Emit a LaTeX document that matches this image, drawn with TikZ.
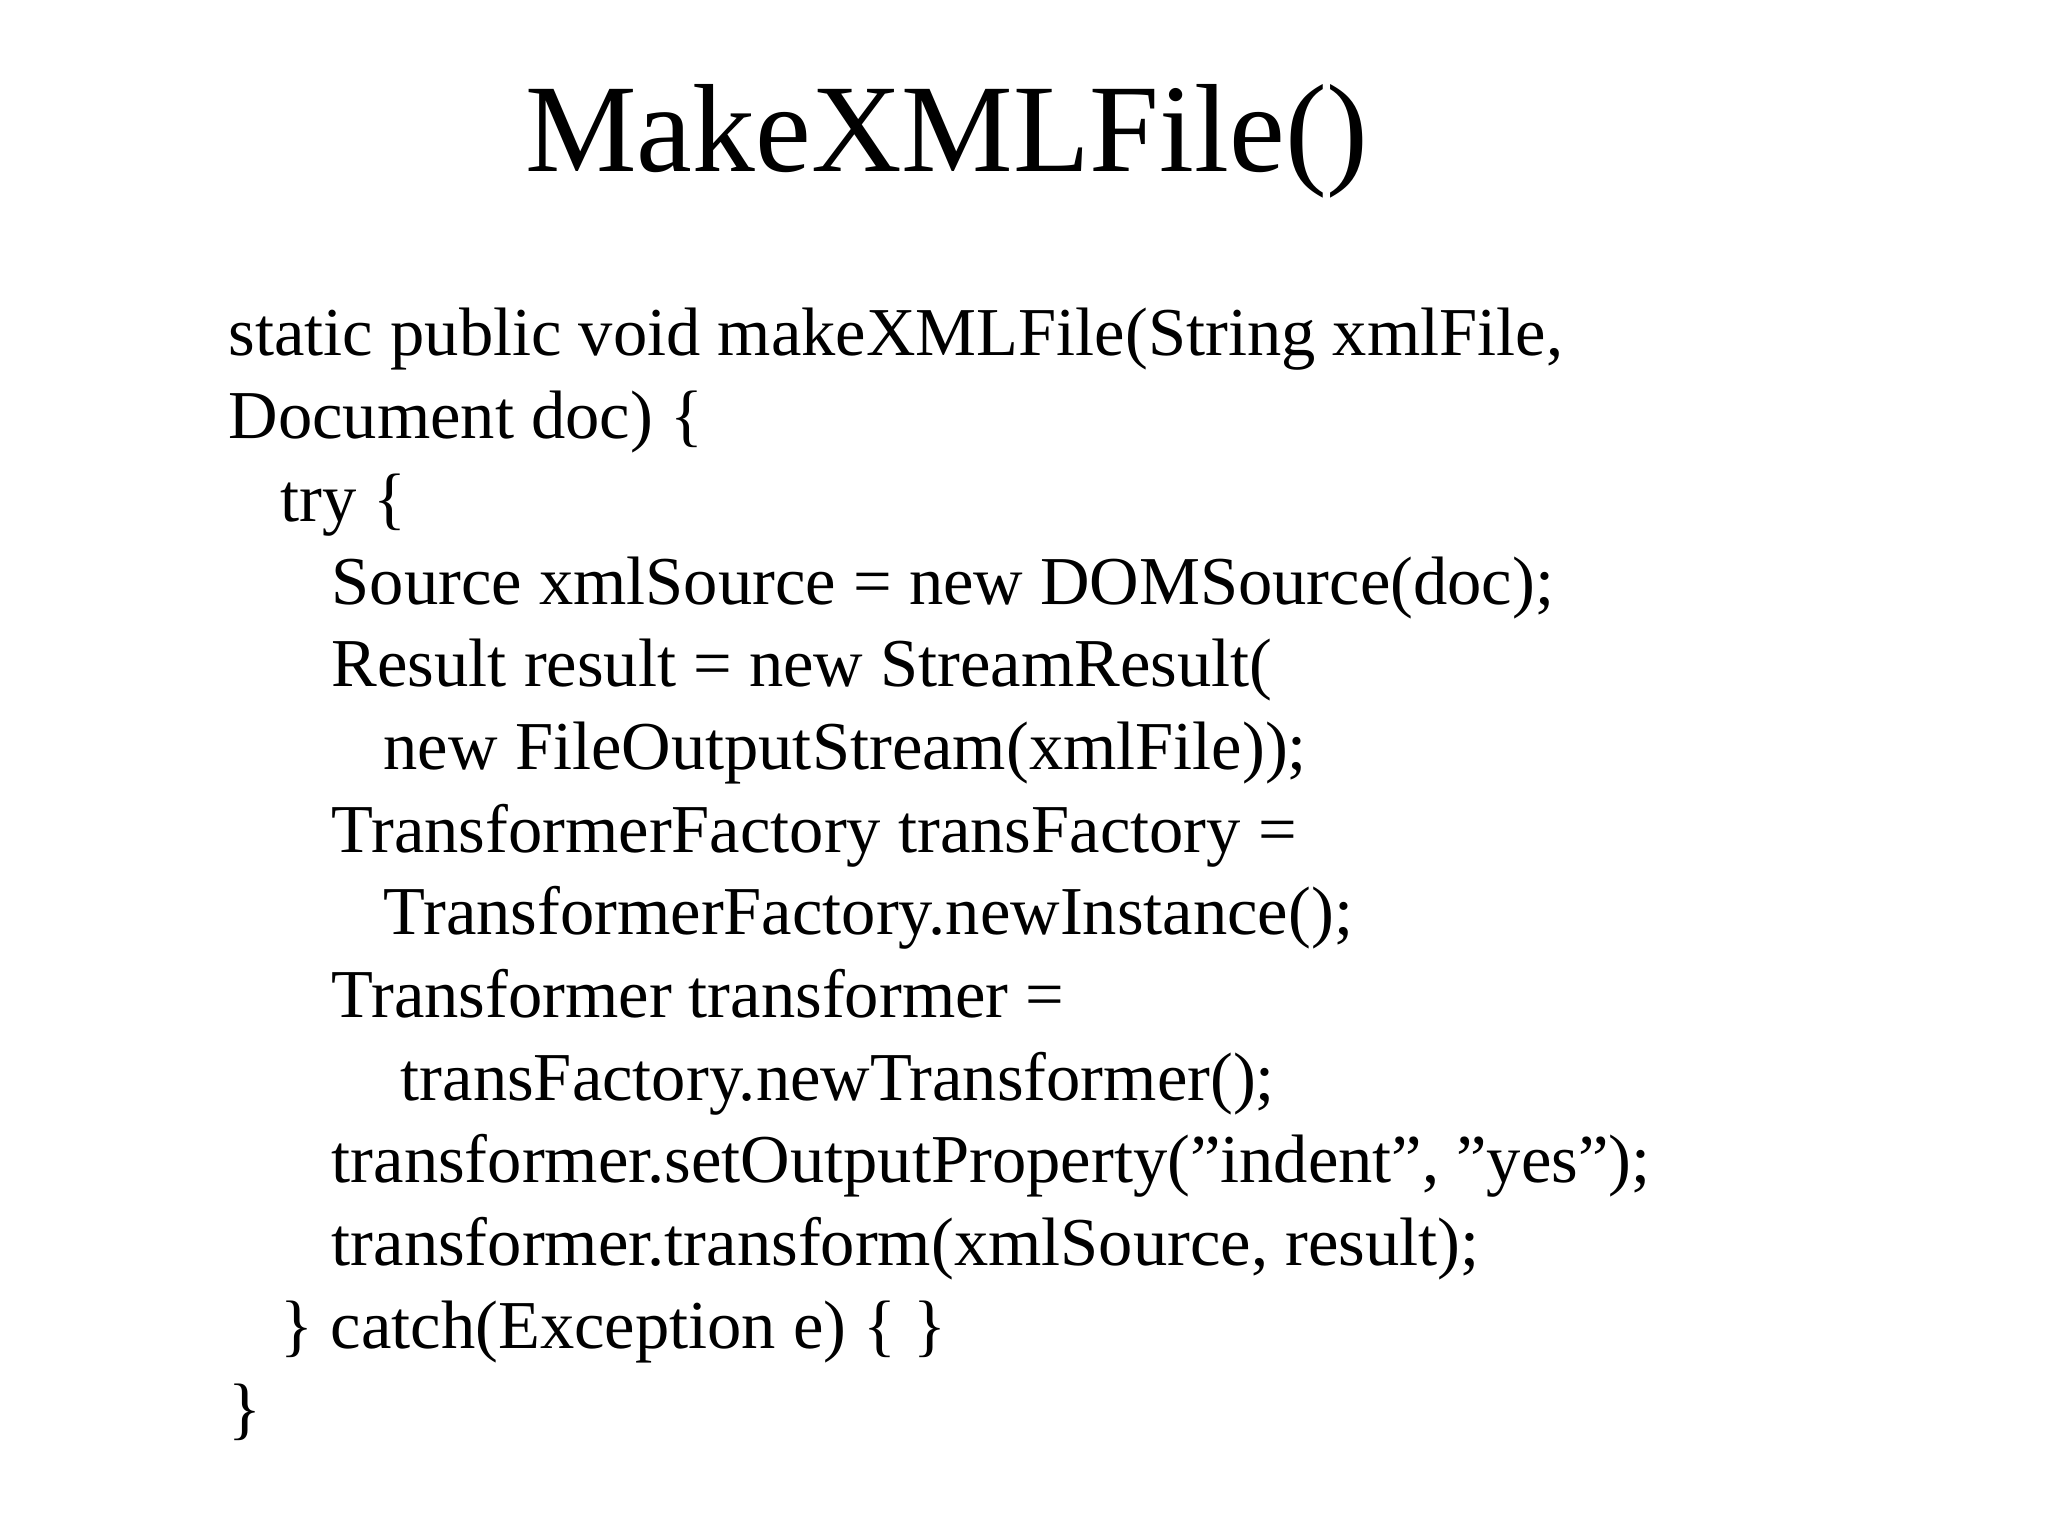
\documentclass[tikz,border=0pt]{standalone}
\usepackage{fontspec}
\setmainfont[Ligatures=NoCommon]{Liberation Serif}
\begin{document}
\begin{tikzpicture}[code/.style={anchor=base west,inner sep=0pt,font=\fontsize{19.5}{24}\selectfont}]
\useasboundingbox (0,0) rectangle (20.48,15.36);
\node[anchor=base,inner sep=0pt,font=\fontsize{35.7}{44}\selectfont] (title) at (9.47,13.64) {MakeXMLFile()};
\def\L#1#2#3{\node[code] (l#1) at (#2,{11.80-0.827*(#1-1)}) {#3};}
\def\q{\char"22\relax}
\L{1}{2.28}{static public void makeXMLFile(String xmlFile,}
\L{2}{2.28}{Document doc) \{}
\L{3}{2.80}{try \{}
\L{4}{3.31}{Source xmlSource = new DOMSource(doc);}
\L{5}{3.31}{Result result = new StreamResult(}
\L{6}{3.83}{new FileOutputStream(xmlFile));}
\L{7}{3.31}{TransformerFactory transFactory =}
\L{8}{3.83}{TransformerFactory.newInstance();}
\L{9}{3.31}{Transformer transformer =}
\L{10}{4.00}{transFactory.newTransformer();}
\L{11}{3.31}{transformer.setOutputProperty(\q indent\q, \q yes\q);}
\L{12}{3.31}{transformer.transform(xmlSource, result);}
\L{13}{2.80}{\} catch(Exception e) \{ \}}
\L{14}{2.28}{\}}
\end{tikzpicture}
\end{document}
